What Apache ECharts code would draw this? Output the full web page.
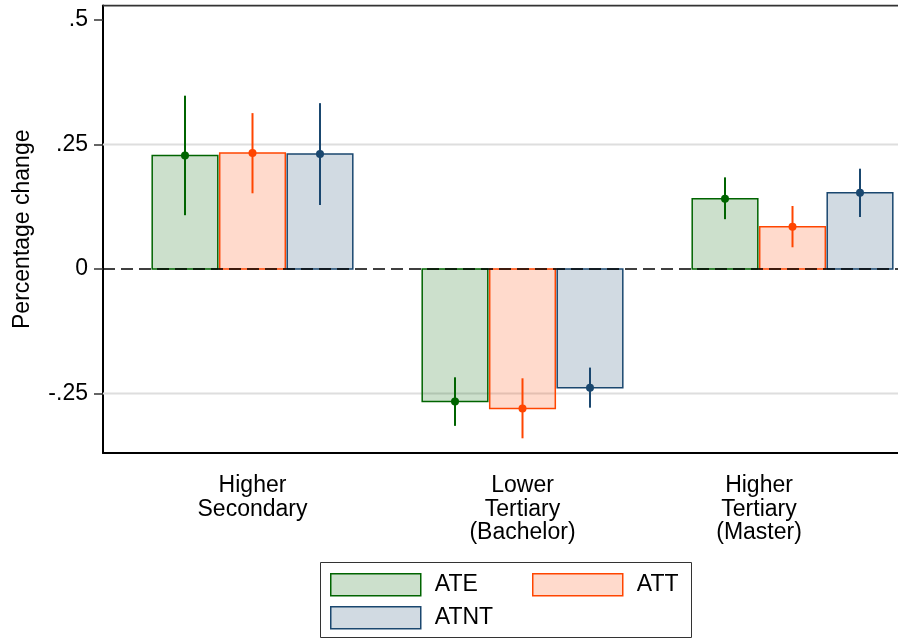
<!DOCTYPE html>
<html>
<head>
<meta charset="utf-8">
<script src="https://cdn.jsdelivr.net/npm/echarts@6/dist/echarts.min.js"></script>
<style>html,body{margin:0;padding:0;background:#fff;}#c{width:898px;height:639px;}</style>
</head>
<body>
<div id="c"></div>
<script>
// ---- data ----
const categories = ['Higher\nSecondary', 'Lower\nTertiary\n(Bachelor)', 'Higher\nTertiary\n(Master)'];
const catPos = [1, 2, 3];
const ateEst = [0.228, -0.266, 0.141];
const ateLo  = [0.108, -0.315, 0.100];
const ateHi  = [0.348, -0.2175, 0.184];
const attEst = [0.233, -0.280, 0.085];
const attLo  = [0.152, -0.340, 0.0436];
const attHi  = [0.313, -0.2195, 0.1265];
const atntEst = [0.231, -0.2384, 0.153];
const atntLo  = [0.1285, -0.2785, 0.1044];
const atntHi  = [0.333, -0.198, 0.2014];
const yTickValues = [-0.25, 0, 0.25, 0.5];
const yTickLabels = ['-.25', '0', '.25', '.5'];
const gridValues = [-0.25, 0.25];

// ---- layout ----
const xMin = 0.4463, xMax = 3.3907;
const yMin = -0.3695, yMax = 0.5291;
const halfW = 0.1215;
const FS = 23;
const labelPos = [1, 2, 2.876]; // the reference's third label sits left of its group

function rows(est, lo, hi) {
  return catPos.map((x, i) => [x, est[i], lo[i], hi[i]]);
}

function makeRender(offset, fill, stroke) {
  return function (params, api) {
    const x = api.value(0) + offset, v = api.value(1), lo = api.value(2), hi = api.value(3);
    const a = api.coord([x - halfW, v]);
    const b = api.coord([x + halfW, 0]);
    const l0 = api.coord([x, lo]);
    const l1 = api.coord([x, hi]);
    const pt = api.coord([x, v]);
    return {
      type: 'group',
      children: [
        { type: 'rect', shape: { x: a[0], y: Math.min(a[1], b[1]), width: b[0] - a[0], height: Math.abs(b[1] - a[1]) },
          style: { fill: fill, stroke: stroke, lineWidth: 1.5 } },
        { type: 'line', shape: { x1: l0[0], y1: l0[1], x2: l1[0], y2: l1[1] }, style: { stroke: stroke, lineWidth: 2 } },
        { type: 'circle', shape: { cx: pt[0], cy: pt[1], r: 4 }, style: { fill: stroke } }
      ]
    };
  };
}

const S = [
  { name: 'ATE', off: -0.25, fill: 'rgba(0,100,0,0.2)', stroke: '#006400', data: rows(ateEst, ateLo, ateHi) },
  { name: 'ATT', off: 0, fill: 'rgba(255,69,0,0.2)', stroke: '#ff4500', data: rows(attEst, attLo, attHi) },
  { name: 'ATNT', off: 0.25, fill: 'rgba(26,71,111,0.2)', stroke: '#1a476f', data: rows(atntEst, atntLo, atntHi) }
];

const series = [];
gridValues.forEach(g => series.push({
  type: 'line', silent: true, symbol: 'none', z: 1,
  data: [[xMin, g], [xMax, g]],
  lineStyle: { color: '#dedede', width: 2 }
}));
S.forEach(s => series.push({
  type: 'custom', name: s.name, z: 2,
  renderItem: makeRender(s.off, s.fill, s.stroke),
  itemStyle: { color: s.fill, borderColor: s.stroke, borderWidth: 1.5 },
  encode: { x: 0, y: 1 },
  data: s.data
}));
series.push({
  type: 'line', silent: true, symbol: 'none', z: 5,
  data: [[xMin, 0], [xMax, 0]],
  lineStyle: { color: '#000', width: 1.5, type: [12, 6] }
});
// top frame line
series.push({
  type: 'line', silent: true, symbol: 'none', z: 5,
  data: [[xMin, yMax], [xMax, yMax]],
  lineStyle: { color: '#333', width: 2 }
});

function legendAt(left, top, s) {
  return {
    left: left, top: top, padding: 0, itemWidth: 90, itemHeight: 22, selectedMode: false,
    icon: 'rect',
    textStyle: { fontSize: FS, color: '#000', fontFamily: 'Liberation Sans', padding: [0, 0, 0, 9] },
    data: [{ name: s.name, itemStyle: { color: s.fill, borderColor: s.stroke, borderWidth: 1.5 } }]
  };
}

const chart = echarts.init(document.getElementById('c'), null, { renderer: 'canvas' });
chart.setOption({
  animation: false,
  backgroundColor: '#fff',
  textStyle: { fontFamily: 'Liberation Sans' },
  grid: { left: 103, right: 0, top: 5.5, bottom: 186, show: false },
  xAxis: {
    type: 'value', min: xMin, max: xMax,
    axisLine: { show: true, onZero: false, lineStyle: { color: '#000', width: 2 } },
    axisTick: { show: false },
    splitLine: { show: false },
    axisLabel: {
      customValues: labelPos, margin: 21, fontSize: FS, color: '#000', lineHeight: 23.5,
      formatter: v => {
        let best = 0;
        labelPos.forEach((p, i) => { if (Math.abs(p - v) < Math.abs(labelPos[best] - v)) best = i; });
        return categories[best];
      }
    }
  },
  yAxis: {
    type: 'value', min: yMin, max: yMax,
    name: 'Percentage change', nameLocation: 'middle', nameGap: 69,
    nameTextStyle: { fontSize: FS, color: '#000' },
    axisLine: { show: true, onZero: false, lineStyle: { color: '#000', width: 2 } },
    axisTick: { show: true, customValues: yTickValues, length: 9, lineStyle: { color: '#333', width: 1.5 } },
    splitLine: { show: false },
    axisLabel: {
      customValues: yTickValues, margin: 15, fontSize: FS, color: '#000',
      formatter: v => {
        let best = 0;
        yTickValues.forEach((t, i) => { if (Math.abs(t - v) < Math.abs(yTickValues[best] - v)) best = i; });
        return yTickLabels[best];
      }
    }
  },
  legend: [legendAt(330, 573, S[0]), legendAt(532, 573, S[1]), legendAt(330, 606, S[2])],
  graphic: [{
    type: 'rect', left: 320, top: 562, z: -1,
    shape: { width: 371, height: 75 },
    style: { fill: '#fff', stroke: '#333', lineWidth: 1 }
  }],
  series: series
});
</script>
</body>
</html>
